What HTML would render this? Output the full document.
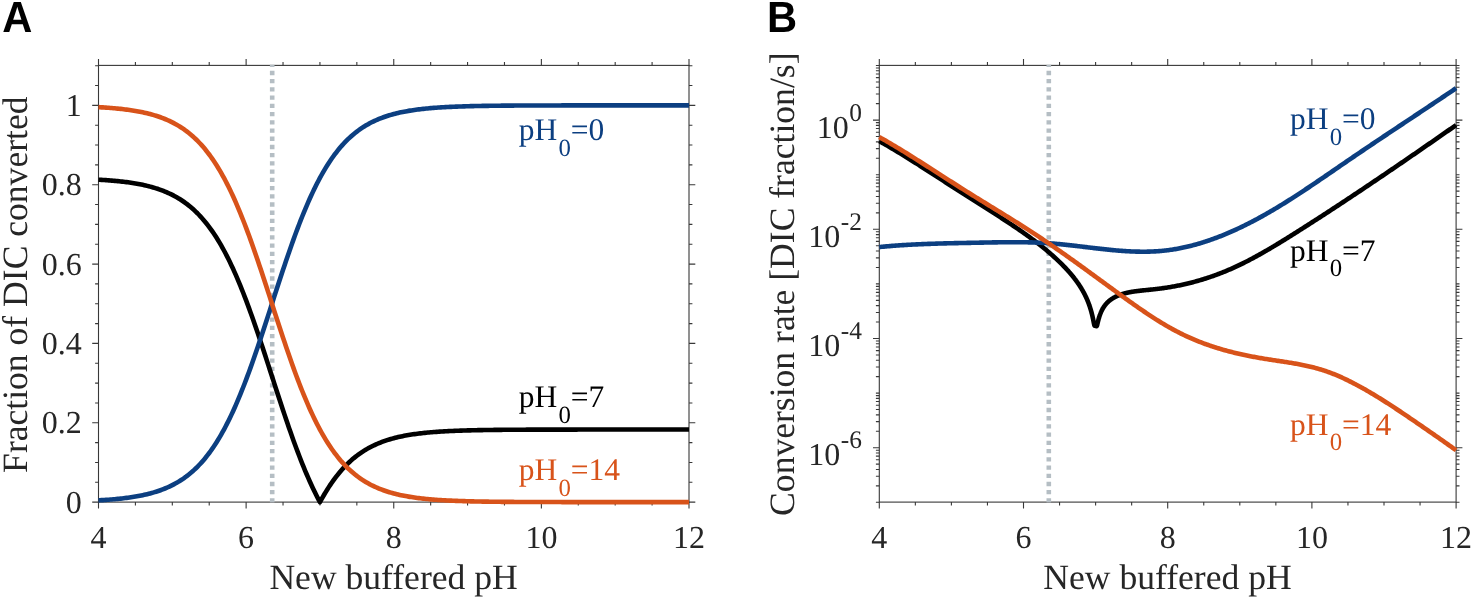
<!DOCTYPE html>
<html lang="en"><head><meta charset="utf-8"><title>Figure</title>
<style>html,body{margin:0;padding:0;background:#fff;}svg{display:block;will-change:transform;}text{font-family:"Liberation Serif", "Times New Roman", Times, serif;fill:#262626;text-rendering:geometricPrecision;}.sans{font-family:"Liberation Sans", Arial, Helvetica, sans-serif;font-weight:700;fill:#000;}</style></head><body>
<svg width="1474" height="599" viewBox="0 0 1474 599">
<rect x="0" y="0" width="1474" height="599" fill="#ffffff"/>
<defs>
<clipPath id="clipA"><rect x="97.9" y="64.7" width="591.7" height="438.1"/></clipPath>
<clipPath id="clipB"><rect x="878.7" y="64.7" width="578" height="438.1"/></clipPath>
</defs>
<text class="sans" transform="translate(2.2 32.4) scale(1 1.042)" font-size="41.7">A</text>
<text class="sans" transform="translate(767.1 32.4) scale(1 1.042)" font-size="41.7">B</text>
<g stroke="#383838" stroke-width="1.1" fill="none" stroke-linecap="butt">
<rect x="98.5" y="65.4" width="590.5" height="436.7"/>
<path d="M98.5 502.1v6.3M98.5 65.4v-6.3M135.41 502.1v3.4M135.41 65.4v-3.4M172.31 502.1v3.4M172.31 65.4v-3.4M209.22 502.1v3.4M209.22 65.4v-3.4M246.12 502.1v6.3M246.12 65.4v-6.3M283.03 502.1v3.4M283.03 65.4v-3.4M319.94 502.1v3.4M319.94 65.4v-3.4M356.84 502.1v3.4M356.84 65.4v-3.4M393.75 502.1v6.3M393.75 65.4v-6.3M430.66 502.1v3.4M430.66 65.4v-3.4M467.56 502.1v3.4M467.56 65.4v-3.4M504.47 502.1v3.4M504.47 65.4v-3.4M541.38 502.1v6.3M541.38 65.4v-6.3M578.28 502.1v3.4M578.28 65.4v-3.4M615.19 502.1v3.4M615.19 65.4v-3.4M652.09 502.1v3.4M652.09 65.4v-3.4M689 502.1v6.3M689 65.4v-6.3M98.5 502.1h-6.3M689 502.1h6.3M98.5 482.27h-3.4M689 482.27h3.4M98.5 462.43h-3.4M689 462.43h3.4M98.5 442.6h-3.4M689 442.6h3.4M98.5 422.76h-6.3M689 422.76h6.3M98.5 402.93h-3.4M689 402.93h3.4M98.5 383.09h-3.4M689 383.09h3.4M98.5 363.25h-3.4M689 363.25h3.4M98.5 343.42h-6.3M689 343.42h6.3M98.5 323.59h-3.4M689 323.59h3.4M98.5 303.75h-3.4M689 303.75h3.4M98.5 283.91h-3.4M689 283.91h3.4M98.5 264.08h-6.3M689 264.08h6.3M98.5 244.25h-3.4M689 244.25h3.4M98.5 224.41h-3.4M689 224.41h3.4M98.5 204.57h-3.4M689 204.57h3.4M98.5 184.74h-6.3M689 184.74h6.3M98.5 164.9h-3.4M689 164.9h3.4M98.5 145.07h-3.4M689 145.07h3.4M98.5 125.23h-3.4M689 125.23h3.4M98.5 105.4h-6.3M689 105.4h6.3M98.5 85.56h-3.4M689 85.56h3.4M98.5 65.73h-3.4M689 65.73h3.4"/>
</g>
<line x1="272.2" y1="62.63" x2="272.2" y2="506" stroke="#b5bec4" stroke-width="4.6" stroke-dasharray="4.3 3.92" clip-path="url(#clipA)"/>
<text x="98.5" y="547.5" font-size="32.0" text-anchor="middle">4</text>
<text x="246.12" y="547.5" font-size="32.0" text-anchor="middle">6</text>
<text x="393.75" y="547.5" font-size="32.0" text-anchor="middle">8</text>
<text x="541.38" y="547.5" font-size="32.0" text-anchor="middle">10</text>
<text x="689" y="547.5" font-size="32.0" text-anchor="middle">12</text>
<text x="393.55" y="589.3" font-size="35.6" text-anchor="middle">New buffered pH</text>
<g stroke="#383838" stroke-width="1.1" fill="none" stroke-linecap="butt">
<rect x="879.3" y="65.4" width="576.8" height="436.7"/>
<path d="M879.3 502.1v6.3M879.3 65.4v-6.3M915.35 502.1v3.4M915.35 65.4v-3.4M951.4 502.1v3.4M951.4 65.4v-3.4M987.45 502.1v3.4M987.45 65.4v-3.4M1023.5 502.1v6.3M1023.5 65.4v-6.3M1059.55 502.1v3.4M1059.55 65.4v-3.4M1095.6 502.1v3.4M1095.6 65.4v-3.4M1131.65 502.1v3.4M1131.65 65.4v-3.4M1167.7 502.1v6.3M1167.7 65.4v-6.3M1203.75 502.1v3.4M1203.75 65.4v-3.4M1239.8 502.1v3.4M1239.8 65.4v-3.4M1275.85 502.1v3.4M1275.85 65.4v-3.4M1311.9 502.1v6.3M1311.9 65.4v-6.3M1347.95 502.1v3.4M1347.95 65.4v-3.4M1384 502.1v3.4M1384 65.4v-3.4M1420.05 502.1v3.4M1420.05 65.4v-3.4M1456.1 502.1v6.3M1456.1 65.4v-6.3M879.3 502.3h-3.4M1456.1 502.3h3.4M879.3 485.86h-3.4M1456.1 485.86h3.4M879.3 476.25h-3.4M1456.1 476.25h3.4M879.3 469.43h-3.4M1456.1 469.43h3.4M879.3 464.14h-3.4M1456.1 464.14h3.4M879.3 459.81h-3.4M1456.1 459.81h3.4M879.3 456.16h-3.4M1456.1 456.16h3.4M879.3 452.99h-3.4M1456.1 452.99h3.4M879.3 450.2h-3.4M1456.1 450.2h3.4M879.3 447.7h-6.3M1456.1 447.7h6.3M879.3 431.26h-3.4M1456.1 431.26h3.4M879.3 421.65h-3.4M1456.1 421.65h3.4M879.3 414.83h-3.4M1456.1 414.83h3.4M879.3 409.54h-3.4M1456.1 409.54h3.4M879.3 405.21h-3.4M1456.1 405.21h3.4M879.3 401.56h-3.4M1456.1 401.56h3.4M879.3 398.39h-3.4M1456.1 398.39h3.4M879.3 395.6h-3.4M1456.1 395.6h3.4M879.3 393.1h-3.4M1456.1 393.1h3.4M879.3 376.66h-3.4M1456.1 376.66h3.4M879.3 367.05h-3.4M1456.1 367.05h3.4M879.3 360.23h-3.4M1456.1 360.23h3.4M879.3 354.94h-3.4M1456.1 354.94h3.4M879.3 350.61h-3.4M1456.1 350.61h3.4M879.3 346.96h-3.4M1456.1 346.96h3.4M879.3 343.79h-3.4M1456.1 343.79h3.4M879.3 341h-3.4M1456.1 341h3.4M879.3 338.5h-6.3M1456.1 338.5h6.3M879.3 322.06h-3.4M1456.1 322.06h3.4M879.3 312.45h-3.4M1456.1 312.45h3.4M879.3 305.63h-3.4M1456.1 305.63h3.4M879.3 300.34h-3.4M1456.1 300.34h3.4M879.3 296.01h-3.4M1456.1 296.01h3.4M879.3 292.36h-3.4M1456.1 292.36h3.4M879.3 289.19h-3.4M1456.1 289.19h3.4M879.3 286.4h-3.4M1456.1 286.4h3.4M879.3 283.9h-3.4M1456.1 283.9h3.4M879.3 267.46h-3.4M1456.1 267.46h3.4M879.3 257.85h-3.4M1456.1 257.85h3.4M879.3 251.03h-3.4M1456.1 251.03h3.4M879.3 245.74h-3.4M1456.1 245.74h3.4M879.3 241.41h-3.4M1456.1 241.41h3.4M879.3 237.76h-3.4M1456.1 237.76h3.4M879.3 234.59h-3.4M1456.1 234.59h3.4M879.3 231.8h-3.4M1456.1 231.8h3.4M879.3 229.3h-6.3M1456.1 229.3h6.3M879.3 212.86h-3.4M1456.1 212.86h3.4M879.3 203.25h-3.4M1456.1 203.25h3.4M879.3 196.43h-3.4M1456.1 196.43h3.4M879.3 191.14h-3.4M1456.1 191.14h3.4M879.3 186.81h-3.4M1456.1 186.81h3.4M879.3 183.16h-3.4M1456.1 183.16h3.4M879.3 179.99h-3.4M1456.1 179.99h3.4M879.3 177.2h-3.4M1456.1 177.2h3.4M879.3 174.7h-3.4M1456.1 174.7h3.4M879.3 158.26h-3.4M1456.1 158.26h3.4M879.3 148.65h-3.4M1456.1 148.65h3.4M879.3 141.83h-3.4M1456.1 141.83h3.4M879.3 136.54h-3.4M1456.1 136.54h3.4M879.3 132.21h-3.4M1456.1 132.21h3.4M879.3 128.56h-3.4M1456.1 128.56h3.4M879.3 125.39h-3.4M1456.1 125.39h3.4M879.3 122.6h-3.4M1456.1 122.6h3.4M879.3 120.1h-6.3M1456.1 120.1h6.3M879.3 103.66h-3.4M1456.1 103.66h3.4M879.3 94.05h-3.4M1456.1 94.05h3.4M879.3 87.23h-3.4M1456.1 87.23h3.4M879.3 81.94h-3.4M1456.1 81.94h3.4M879.3 77.61h-3.4M1456.1 77.61h3.4M879.3 73.96h-3.4M1456.1 73.96h3.4M879.3 70.79h-3.4M1456.1 70.79h3.4M879.3 68h-3.4M1456.1 68h3.4M879.3 65.5h-3.4M1456.1 65.5h3.4"/>
</g>
<line x1="1048.8" y1="62.63" x2="1048.8" y2="506" stroke="#b5bec4" stroke-width="4.6" stroke-dasharray="4.3 3.92" clip-path="url(#clipB)"/>
<text x="879.3" y="547.5" font-size="32.0" text-anchor="middle">4</text>
<text x="1023.5" y="547.5" font-size="32.0" text-anchor="middle">6</text>
<text x="1167.7" y="547.5" font-size="32.0" text-anchor="middle">8</text>
<text x="1311.9" y="547.5" font-size="32.0" text-anchor="middle">10</text>
<text x="1456.1" y="547.5" font-size="32.0" text-anchor="middle">12</text>
<text x="1167.5" y="589.3" font-size="35.6" text-anchor="middle">New buffered pH</text>
<text x="81.8" y="512.6" font-size="32.0" text-anchor="end">0</text>
<text x="81.8" y="433.26" font-size="32.0" text-anchor="end">0.2</text>
<text x="81.8" y="353.92" font-size="32.0" text-anchor="end">0.4</text>
<text x="81.8" y="274.58" font-size="32.0" text-anchor="end">0.6</text>
<text x="81.8" y="195.24" font-size="32.0" text-anchor="end">0.8</text>
<text x="81.8" y="115.9" font-size="32.0" text-anchor="end">1</text>
<text transform="translate(27.1 284.7) rotate(-90)" font-size="35.6" text-anchor="middle">Fraction of DIC converted</text>
<text x="848.8" y="137.7" font-size="32.0" text-anchor="end">10</text>
<text x="862" y="120.7" font-size="25.4" text-anchor="end">0</text>
<text x="840.34" y="246.9" font-size="32.0" text-anchor="end">10</text>
<text x="862" y="229.9" font-size="25.4" text-anchor="end">-2</text>
<text x="840.34" y="356.1" font-size="32.0" text-anchor="end">10</text>
<text x="862" y="339.1" font-size="25.4" text-anchor="end">-4</text>
<text x="840.34" y="465.3" font-size="32.0" text-anchor="end">10</text>
<text x="862" y="448.3" font-size="25.4" text-anchor="end">-6</text>
<text transform="translate(794.2 284.2) rotate(-90)" font-size="35.6" text-anchor="middle">Conversion rate [DIC fraction/s]</text>
<g fill="none" stroke-width="4.6" stroke-linejoin="round" stroke-linecap="butt">
<polyline stroke="#000000" points="98.5,179.7 99.98,179.78 101.45,179.87 102.93,179.96 104.4,180.06 105.88,180.16 107.36,180.26 108.83,180.37 110.31,180.48 111.79,180.6 113.26,180.73 114.74,180.86 116.21,180.99 117.69,181.14 119.17,181.29 120.64,181.44 122.12,181.61 123.6,181.78 125.07,181.96 126.55,182.14 128.02,182.34 129.5,182.54 130.98,182.76 132.45,182.98 133.93,183.22 135.41,183.46 136.88,183.72 138.36,183.99 139.83,184.27 141.31,184.56 142.79,184.87 144.26,185.19 145.74,185.52 147.22,185.87 148.69,186.24 150.17,186.62 151.64,187.02 153.12,187.44 154.6,187.88 156.07,188.33 157.55,188.81 159.03,189.31 160.5,189.83 161.98,190.37 163.45,190.94 164.93,191.53 166.41,192.15 167.88,192.79 169.36,193.47 170.84,194.17 172.31,194.9 173.79,195.66 175.26,196.46 176.74,197.29 178.22,198.16 179.69,199.06 181.17,200 182.65,200.98 184.12,202 185.6,203.06 187.07,204.16 188.55,205.32 190.03,206.51 191.5,207.76 192.98,209.05 194.46,210.4 195.93,211.8 197.41,213.25 198.88,214.76 200.36,216.33 201.84,217.96 203.31,219.65 204.79,221.4 206.27,223.21 207.74,225.09 209.22,227.04 210.69,229.05 212.17,231.14 213.65,233.3 215.12,235.53 216.6,237.83 218.08,240.21 219.55,242.67 221.03,245.2 222.5,247.81 223.98,250.5 225.46,253.27 226.93,256.12 228.41,259.06 229.89,262.07 231.36,265.16 232.84,268.34 234.31,271.59 235.79,274.93 237.27,278.34 238.74,281.83 240.22,285.4 241.7,289.05 243.17,292.77 244.65,296.56 246.12,300.43 247.6,304.36 249.08,308.36 250.55,312.42 252.03,316.55 253.51,320.73 254.98,324.96 256.46,329.25 257.93,333.58 259.41,337.96 260.89,342.38 262.36,346.83 263.84,351.31 265.32,355.82 266.79,360.35 268.27,364.89 269.74,369.45 271.22,374.01 272.7,378.58 274.17,383.15 275.65,387.7 277.13,392.25 278.6,396.78 280.08,401.29 281.55,405.77 283.03,410.22 284.51,414.63 285.98,419.01 287.46,423.35 288.94,427.63 290.41,431.87 291.89,436.05 293.36,440.17 294.84,444.24 296.32,448.24 297.79,452.17 299.27,456.04 300.75,459.83 302.22,463.55 303.7,467.2 305.17,470.77 306.65,474.26 308.13,477.68 309.6,481.01 311.08,484.27 312.56,487.44 314.03,490.53 315.51,493.55 316.98,496.48 318.46,499.33 319.94,502.1 321.41,499.41 322.89,496.8 324.37,494.26 325.84,491.81 327.32,489.43 328.79,487.12 330.27,484.89 331.75,482.73 333.22,480.65 334.7,478.63 336.18,476.68 337.65,474.8 339.13,472.99 340.6,471.24 342.08,469.55 343.56,467.92 345.03,466.35 346.51,464.84 347.99,463.39 349.46,461.99 350.94,460.64 352.41,459.35 353.89,458.1 355.37,456.91 356.84,455.75 358.32,454.65 359.8,453.59 361.27,452.57 362.75,451.59 364.22,450.65 365.7,449.74 367.18,448.88 368.65,448.05 370.13,447.25 371.61,446.49 373.08,445.75 374.56,445.05 376.03,444.38 377.51,443.74 378.99,443.12 380.46,442.53 381.94,441.96 383.42,441.42 384.89,440.9 386.37,440.4 387.84,439.92 389.32,439.46 390.8,439.03 392.27,438.61 393.75,438.21 395.23,437.83 396.7,437.46 398.18,437.11 399.65,436.77 401.13,436.45 402.61,436.15 404.08,435.85 405.56,435.57 407.04,435.3 408.51,435.05 409.99,434.8 411.46,434.57 412.94,434.34 414.42,434.13 415.89,433.92 417.37,433.73 418.85,433.54 420.32,433.36 421.8,433.19 423.27,433.03 424.75,432.87 426.23,432.72 427.7,432.58 429.18,432.44 430.66,432.31 432.13,432.19 433.61,432.07 435.08,431.95 436.56,431.84 438.04,431.74 439.51,431.64 440.99,431.55 442.47,431.46 443.94,431.37 445.42,431.29 446.89,431.21 448.37,431.13 449.85,431.06 451.32,430.99 452.8,430.93 454.28,430.86 455.75,430.8 457.23,430.75 458.7,430.69 460.18,430.64 461.66,430.59 463.13,430.54 464.61,430.49 466.09,430.45 467.56,430.41 469.04,430.37 470.51,430.33 471.99,430.3 473.47,430.26 474.94,430.23 476.42,430.2 477.9,430.17 479.37,430.14 480.85,430.11 482.32,430.08 483.8,430.06 485.28,430.03 486.75,430.01 488.23,429.99 489.71,429.97 491.18,429.95 492.66,429.93 494.13,429.91 495.61,429.9 497.09,429.88 498.56,429.86 500.04,429.85 501.52,429.83 502.99,429.82 504.47,429.81 505.94,429.79 507.42,429.78 508.9,429.77 510.37,429.76 511.85,429.75 513.33,429.74 514.8,429.73 516.28,429.72 517.75,429.71 519.23,429.71 520.71,429.7 522.18,429.69 523.66,429.68 525.14,429.68 526.61,429.67 528.09,429.67 529.56,429.66 531.04,429.65 532.52,429.65 533.99,429.64 535.47,429.64 536.95,429.64 538.42,429.63 539.9,429.63 541.37,429.62 542.85,429.62 544.33,429.62 545.8,429.61 547.28,429.61 548.76,429.61 550.23,429.6 551.71,429.6 553.18,429.6 554.66,429.6 556.14,429.6 557.61,429.59 559.09,429.59 560.57,429.59 562.04,429.59 563.52,429.59 564.99,429.58 566.47,429.58 567.95,429.58 569.42,429.58 570.9,429.58 572.38,429.58 573.85,429.58 575.33,429.58 576.8,429.58 578.28,429.57 579.76,429.57 581.23,429.57 582.71,429.57 584.19,429.57 585.66,429.57 587.14,429.57 588.61,429.57 590.09,429.57 591.57,429.57 593.04,429.57 594.52,429.57 596,429.57 597.47,429.57 598.95,429.57 600.42,429.57 601.9,429.57 603.38,429.57 604.85,429.57 606.33,429.57 607.81,429.57 609.28,429.57 610.76,429.56 612.23,429.56 613.71,429.56 615.19,429.56 616.66,429.56 618.14,429.56 619.62,429.56 621.09,429.56 622.57,429.56 624.04,429.56 625.52,429.56 627,429.56 628.47,429.56 629.95,429.56 631.43,429.56 632.9,429.56 634.38,429.56 635.85,429.56 637.33,429.56 638.81,429.56 640.28,429.56 641.76,429.56 643.24,429.56 644.71,429.56 646.19,429.56 647.66,429.56 649.14,429.56 650.62,429.56 652.09,429.56 653.57,429.56 655.05,429.56 656.52,429.56 658,429.56 659.47,429.56 660.95,429.56 662.43,429.56 663.9,429.56 665.38,429.56 666.86,429.56 668.33,429.56 669.81,429.56 671.28,429.56 672.76,429.56 674.24,429.56 675.71,429.56 677.19,429.56 678.67,429.56 680.14,429.56 681.62,429.56 683.09,429.56 684.57,429.56 686.05,429.56 687.52,429.56 689,429.56"/>
<polyline stroke="#0c3f81" points="98.5,500.34 99.98,500.25 101.45,500.17 102.93,500.08 104.4,499.98 105.88,499.88 107.36,499.78 108.83,499.67 110.31,499.56 111.79,499.44 113.26,499.31 114.74,499.18 116.21,499.04 117.69,498.9 119.17,498.75 120.64,498.6 122.12,498.43 123.6,498.26 125.07,498.08 126.55,497.89 128.02,497.7 129.5,497.49 130.98,497.28 132.45,497.05 133.93,496.82 135.41,496.57 136.88,496.32 138.36,496.05 139.83,495.77 141.31,495.48 142.79,495.17 144.26,494.85 145.74,494.51 147.22,494.16 148.69,493.8 150.17,493.41 151.64,493.01 153.12,492.6 154.6,492.16 156.07,491.7 157.55,491.23 159.03,490.73 160.5,490.21 161.98,489.67 163.45,489.1 164.93,488.51 166.41,487.89 167.88,487.24 169.36,486.57 170.84,485.87 172.31,485.14 173.79,484.37 175.26,483.58 176.74,482.75 178.22,481.88 179.69,480.98 181.17,480.04 182.65,479.06 184.12,478.04 185.6,476.98 187.07,475.87 188.55,474.72 190.03,473.52 191.5,472.28 192.98,470.98 194.46,469.64 195.93,468.24 197.41,466.78 198.88,465.27 200.36,463.71 201.84,462.08 203.31,460.39 204.79,458.64 206.27,456.83 207.74,454.95 209.22,453 210.69,450.98 212.17,448.9 213.65,446.74 215.12,444.51 216.6,442.21 218.08,439.83 219.55,437.37 221.03,434.84 222.5,432.22 223.98,429.53 225.46,426.76 226.93,423.91 228.41,420.98 229.89,417.97 231.36,414.88 232.84,411.7 234.31,408.45 235.79,405.11 237.27,401.7 238.74,398.21 240.22,394.63 241.7,390.99 243.17,387.27 244.65,383.47 246.12,379.61 247.6,375.68 249.08,371.68 250.55,367.61 252.03,363.49 253.51,359.31 254.98,355.07 256.46,350.79 257.93,346.45 259.41,342.08 260.89,337.66 262.36,333.21 263.84,328.73 265.32,324.22 266.79,319.69 268.27,315.15 269.74,310.59 271.22,306.02 272.7,301.46 274.17,296.89 275.65,292.33 277.13,287.79 278.6,283.26 280.08,278.75 281.55,274.27 283.03,269.82 284.51,265.4 285.98,261.03 287.46,256.69 288.94,252.41 290.41,248.17 291.89,243.99 293.36,239.86 294.84,235.8 296.32,231.8 297.79,227.87 299.27,224 300.75,220.21 302.22,216.49 303.7,212.84 305.17,209.27 306.65,205.78 308.13,202.36 309.6,199.03 311.08,195.77 312.56,192.6 314.03,189.5 315.51,186.49 316.98,183.56 318.46,180.71 319.94,177.94 321.41,175.25 322.89,172.63 324.37,170.1 325.84,167.64 327.32,165.26 328.79,162.96 330.27,160.73 331.75,158.57 333.22,156.48 334.7,154.47 336.18,152.52 337.65,150.64 339.13,148.83 340.6,147.07 342.08,145.39 343.56,143.76 345.03,142.19 346.51,140.68 347.99,139.23 349.46,137.83 350.94,136.48 352.41,135.19 353.89,133.94 355.37,132.74 356.84,131.59 358.32,130.49 359.8,129.42 361.27,128.4 362.75,127.42 364.22,126.48 365.7,125.58 367.18,124.72 368.65,123.88 370.13,123.09 371.61,122.32 373.08,121.59 374.56,120.89 376.03,120.22 377.51,119.57 378.99,118.95 380.46,118.36 381.94,117.8 383.42,117.25 384.89,116.73 386.37,116.23 387.84,115.76 389.32,115.3 390.8,114.87 392.27,114.45 393.75,114.05 395.23,113.66 396.7,113.3 398.18,112.95 399.65,112.61 401.13,112.29 402.61,111.98 404.08,111.69 405.56,111.41 407.04,111.14 408.51,110.89 409.99,110.64 411.46,110.41 412.94,110.18 414.42,109.97 415.89,109.76 417.37,109.57 418.85,109.38 420.32,109.2 421.8,109.03 423.27,108.86 424.75,108.71 426.23,108.56 427.7,108.42 429.18,108.28 430.66,108.15 432.13,108.02 433.61,107.9 435.08,107.79 436.56,107.68 438.04,107.58 439.51,107.48 440.99,107.38 442.47,107.29 443.94,107.21 445.42,107.12 446.89,107.04 448.37,106.97 449.85,106.9 451.32,106.83 452.8,106.76 454.28,106.7 455.75,106.64 457.23,106.58 458.7,106.53 460.18,106.48 461.66,106.43 463.13,106.38 464.61,106.33 466.09,106.29 467.56,106.25 469.04,106.21 470.51,106.17 471.99,106.13 473.47,106.1 474.94,106.07 476.42,106.03 477.9,106 479.37,105.97 480.85,105.95 482.32,105.92 483.8,105.9 485.28,105.87 486.75,105.85 488.23,105.83 489.71,105.81 491.18,105.79 492.66,105.77 494.13,105.75 495.61,105.73 497.09,105.72 498.56,105.7 500.04,105.69 501.52,105.67 502.99,105.66 504.47,105.64 505.94,105.63 507.42,105.62 508.9,105.61 510.37,105.6 511.85,105.59 513.33,105.58 514.8,105.57 516.28,105.56 517.75,105.55 519.23,105.54 520.71,105.54 522.18,105.53 523.66,105.52 525.14,105.51 526.61,105.51 528.09,105.5 529.56,105.5 531.04,105.49 532.52,105.49 533.99,105.48 535.47,105.48 536.95,105.47 538.42,105.47 539.9,105.46 541.37,105.46 542.85,105.46 544.33,105.45 545.8,105.45 547.28,105.45 548.76,105.44 550.23,105.44 551.71,105.44 553.18,105.44 554.66,105.43 556.14,105.43 557.61,105.43 559.09,105.43 560.57,105.43 562.04,105.42 563.52,105.42 564.99,105.42 566.47,105.42 567.95,105.42 569.42,105.42 570.9,105.42 572.38,105.42 573.85,105.41 575.33,105.41 576.8,105.41 578.28,105.41 579.76,105.41 581.23,105.41 582.71,105.41 584.19,105.41 585.66,105.41 587.14,105.41 588.61,105.41 590.09,105.41 591.57,105.41 593.04,105.41 594.52,105.4 596,105.4 597.47,105.4 598.95,105.4 600.42,105.4 601.9,105.4 603.38,105.4 604.85,105.4 606.33,105.4 607.81,105.4 609.28,105.4 610.76,105.4 612.23,105.4 613.71,105.4 615.19,105.4 616.66,105.4 618.14,105.4 619.62,105.4 621.09,105.4 622.57,105.4 624.04,105.4 625.52,105.4 627,105.4 628.47,105.4 629.95,105.4 631.43,105.4 632.9,105.4 634.38,105.4 635.85,105.4 637.33,105.4 638.81,105.4 640.28,105.4 641.76,105.4 643.24,105.4 644.71,105.4 646.19,105.4 647.66,105.4 649.14,105.4 650.62,105.4 652.09,105.4 653.57,105.4 655.05,105.4 656.52,105.4 658,105.4 659.47,105.4 660.95,105.4 662.43,105.4 663.9,105.4 665.38,105.4 666.86,105.4 668.33,105.4 669.81,105.4 671.28,105.4 672.76,105.4 674.24,105.4 675.71,105.4 677.19,105.4 678.67,105.4 680.14,105.4 681.62,105.4 683.09,105.4 684.57,105.4 686.05,105.4 687.52,105.4 689,105.4"/>
<polyline stroke="#d8531a" points="98.5,107.16 99.98,107.25 101.45,107.33 102.93,107.42 104.4,107.52 105.88,107.62 107.36,107.72 108.83,107.83 110.31,107.94 111.79,108.06 113.26,108.19 114.74,108.32 116.21,108.46 117.69,108.6 119.17,108.75 120.64,108.9 122.12,109.07 123.6,109.24 125.07,109.42 126.55,109.61 128.02,109.8 129.5,110.01 130.98,110.22 132.45,110.45 133.93,110.68 135.41,110.93 136.88,111.18 138.36,111.45 139.83,111.73 141.31,112.02 142.79,112.33 144.26,112.65 145.74,112.99 147.22,113.34 148.69,113.7 150.17,114.09 151.64,114.49 153.12,114.9 154.6,115.34 156.07,115.8 157.55,116.27 159.03,116.77 160.5,117.29 161.98,117.83 163.45,118.4 164.93,118.99 166.41,119.61 167.88,120.26 169.36,120.93 170.84,121.63 172.31,122.36 173.79,123.13 175.26,123.92 176.74,124.75 178.22,125.62 179.69,126.52 181.17,127.46 182.65,128.44 184.12,129.46 185.6,130.52 187.07,131.63 188.55,132.78 190.03,133.98 191.5,135.22 192.98,136.52 194.46,137.86 195.93,139.26 197.41,140.72 198.88,142.23 200.36,143.79 201.84,145.42 203.31,147.11 204.79,148.86 206.27,150.67 207.74,152.55 209.22,154.5 210.69,156.52 212.17,158.6 213.65,160.76 215.12,162.99 216.6,165.29 218.08,167.67 219.55,170.13 221.03,172.66 222.5,175.28 223.98,177.97 225.46,180.74 226.93,183.59 228.41,186.52 229.89,189.53 231.36,192.62 232.84,195.8 234.31,199.05 235.79,202.39 237.27,205.8 238.74,209.29 240.22,212.87 241.7,216.51 243.17,220.23 244.65,224.03 246.12,227.89 247.6,231.82 249.08,235.82 250.55,239.89 252.03,244.01 253.51,248.19 254.98,252.43 256.46,256.71 257.93,261.05 259.41,265.42 260.89,269.84 262.36,274.29 263.84,278.77 265.32,283.28 266.79,287.81 268.27,292.35 269.74,296.91 271.22,301.48 272.7,306.04 274.17,310.61 275.65,315.17 277.13,319.71 278.6,324.24 280.08,328.75 281.55,333.23 283.03,337.68 284.51,342.1 285.98,346.47 287.46,350.81 288.94,355.09 290.41,359.33 291.89,363.51 293.36,367.64 294.84,371.7 296.32,375.7 297.79,379.63 299.27,383.5 300.75,387.29 302.22,391.01 303.7,394.66 305.17,398.23 306.65,401.72 308.13,405.14 309.6,408.47 311.08,411.73 312.56,414.9 314.03,418 315.51,421.01 316.98,423.94 318.46,426.79 319.94,429.56 321.41,432.25 322.89,434.87 324.37,437.4 325.84,439.86 327.32,442.24 328.79,444.54 330.27,446.77 331.75,448.93 333.22,451.02 334.7,453.03 336.18,454.98 337.65,456.86 339.13,458.67 340.6,460.43 342.08,462.11 343.56,463.74 345.03,465.31 346.51,466.82 347.99,468.27 349.46,469.67 350.94,471.02 352.41,472.31 353.89,473.56 355.37,474.76 356.84,475.91 358.32,477.01 359.8,478.08 361.27,479.1 362.75,480.08 364.22,481.02 365.7,481.92 367.18,482.78 368.65,483.62 370.13,484.41 371.61,485.18 373.08,485.91 374.56,486.61 376.03,487.28 377.51,487.93 378.99,488.55 380.46,489.14 381.94,489.7 383.42,490.25 384.89,490.77 386.37,491.27 387.84,491.74 389.32,492.2 390.8,492.63 392.27,493.05 393.75,493.45 395.23,493.84 396.7,494.2 398.18,494.55 399.65,494.89 401.13,495.21 402.61,495.52 404.08,495.81 405.56,496.09 407.04,496.36 408.51,496.61 409.99,496.86 411.46,497.09 412.94,497.32 414.42,497.53 415.89,497.74 417.37,497.93 418.85,498.12 420.32,498.3 421.8,498.47 423.27,498.64 424.75,498.79 426.23,498.94 427.7,499.08 429.18,499.22 430.66,499.35 432.13,499.48 433.61,499.6 435.08,499.71 436.56,499.82 438.04,499.92 439.51,500.02 440.99,500.12 442.47,500.21 443.94,500.29 445.42,500.38 446.89,500.46 448.37,500.53 449.85,500.6 451.32,500.67 452.8,500.74 454.28,500.8 455.75,500.86 457.23,500.92 458.7,500.97 460.18,501.02 461.66,501.07 463.13,501.12 464.61,501.17 466.09,501.21 467.56,501.25 469.04,501.29 470.51,501.33 471.99,501.37 473.47,501.4 474.94,501.43 476.42,501.47 477.9,501.5 479.37,501.53 480.85,501.55 482.32,501.58 483.8,501.6 485.28,501.63 486.75,501.65 488.23,501.67 489.71,501.69 491.18,501.71 492.66,501.73 494.13,501.75 495.61,501.77 497.09,501.78 498.56,501.8 500.04,501.81 501.52,501.83 502.99,501.84 504.47,501.86 505.94,501.87 507.42,501.88 508.9,501.89 510.37,501.9 511.85,501.91 513.33,501.92 514.8,501.93 516.28,501.94 517.75,501.95 519.23,501.96 520.71,501.96 522.18,501.97 523.66,501.98 525.14,501.99 526.61,501.99 528.09,502 529.56,502 531.04,502.01 532.52,502.01 533.99,502.02 535.47,502.02 536.95,502.03 538.42,502.03 539.9,502.04 541.37,502.04 542.85,502.04 544.33,502.05 545.8,502.05 547.28,502.05 548.76,502.06 550.23,502.06 551.71,502.06 553.18,502.06 554.66,502.07 556.14,502.07 557.61,502.07 559.09,502.07 560.57,502.07 562.04,502.08 563.52,502.08 564.99,502.08 566.47,502.08 567.95,502.08 569.42,502.08 570.9,502.08 572.38,502.08 573.85,502.09 575.33,502.09 576.8,502.09 578.28,502.09 579.76,502.09 581.23,502.09 582.71,502.09 584.19,502.09 585.66,502.09 587.14,502.09 588.61,502.09 590.09,502.09 591.57,502.09 593.04,502.09 594.52,502.1 596,502.1 597.47,502.1 598.95,502.1 600.42,502.1 601.9,502.1 603.38,502.1 604.85,502.1 606.33,502.1 607.81,502.1 609.28,502.1 610.76,502.1 612.23,502.1 613.71,502.1 615.19,502.1 616.66,502.1 618.14,502.1 619.62,502.1 621.09,502.1 622.57,502.1 624.04,502.1 625.52,502.1 627,502.1 628.47,502.1 629.95,502.1 631.43,502.1 632.9,502.1 634.38,502.1 635.85,502.1 637.33,502.1 638.81,502.1 640.28,502.1 641.76,502.1 643.24,502.1 644.71,502.1 646.19,502.1 647.66,502.1 649.14,502.1 650.62,502.1 652.09,502.1 653.57,502.1 655.05,502.1 656.52,502.1 658,502.1 659.47,502.1 660.95,502.1 662.43,502.1 663.9,502.1 665.38,502.1 666.86,502.1 668.33,502.1 669.81,502.1 671.28,502.1 672.76,502.1 674.24,502.1 675.71,502.1 677.19,502.1 678.67,502.1 680.14,502.1 681.62,502.1 683.09,502.1 684.57,502.1 686.05,502.1 687.52,502.1 689,502.1"/>
</g>
<g fill="none" stroke-width="4.6" stroke-linejoin="round" stroke-linecap="butt">
<polyline stroke="#000000" points="879.3,141.12 880.88,142.01 882.45,142.9 884.03,143.8 885.6,144.71 887.18,145.63 888.75,146.55 890.33,147.47 891.9,148.4 893.48,149.34 895.05,150.28 896.63,151.23 898.2,152.18 899.78,153.14 901.35,154.1 902.93,155.07 904.5,156.04 906.08,157.01 907.66,157.99 909.23,158.97 910.81,159.96 912.38,160.95 913.96,161.94 915.53,162.93 917.11,163.93 918.68,164.93 920.26,165.94 921.83,166.94 923.41,167.95 924.98,168.96 926.56,169.97 928.13,170.98 929.71,172 931.28,173.02 932.86,174.03 934.44,175.05 936.01,176.07 937.59,177.09 939.16,178.11 940.74,179.13 942.31,180.15 943.89,181.18 945.46,182.2 947.04,183.22 948.61,184.24 950.19,185.26 951.76,186.28 953.34,187.3 954.91,188.32 956.49,189.33 958.06,190.35 959.64,191.36 961.22,192.38 962.79,193.39 964.37,194.39 965.94,195.4 967.52,196.41 969.09,197.41 970.67,198.41 972.24,199.41 973.82,200.41 975.39,201.41 976.97,202.4 978.54,203.4 980.12,204.4 981.69,205.39 983.27,206.39 984.84,207.38 986.42,208.38 988,209.38 989.57,210.38 991.15,211.38 992.72,212.38 994.3,213.39 995.87,214.39 997.45,215.4 999.02,216.42 1000.6,217.43 1002.17,218.45 1003.75,219.47 1005.32,220.5 1006.9,221.53 1008.47,222.57 1010.05,223.61 1011.62,224.66 1013.2,225.71 1014.78,226.77 1016.35,227.84 1017.93,228.91 1019.5,230 1021.08,231.08 1022.65,232.18 1024.23,233.29 1025.8,234.41 1027.38,235.54 1028.95,236.67 1030.53,237.82 1032.1,238.98 1033.68,240.16 1035.25,241.35 1036.83,242.55 1038.4,243.77 1039.98,245 1041.56,246.25 1043.13,247.51 1044.71,248.8 1046.28,250.1 1047.86,251.42 1049.43,252.76 1051.01,254.13 1052.58,255.51 1054.16,256.93 1055.73,258.36 1057.31,259.83 1058.88,261.32 1060.46,262.85 1062.03,264.41 1063.61,266.01 1065.18,267.66 1066.76,269.34 1066.88,269.47 1067,269.61 1067.12,269.74 1067.24,269.87 1067.36,270 1067.48,270.13 1067.6,270.27 1067.73,270.4 1067.85,270.53 1067.97,270.67 1068.09,270.8 1068.21,270.94 1068.33,271.07 1068.45,271.21 1068.57,271.34 1068.69,271.48 1068.81,271.62 1068.93,271.75 1069.05,271.89 1069.17,272.03 1069.29,272.16 1069.41,272.3 1069.54,272.44 1069.66,272.58 1069.78,272.72 1069.9,272.86 1070.02,273 1070.14,273.14 1070.26,273.28 1070.38,273.42 1070.5,273.56 1070.62,273.7 1070.74,273.84 1070.86,273.99 1070.98,274.13 1071.1,274.27 1071.22,274.42 1071.35,274.56 1071.47,274.7 1071.59,274.85 1071.71,274.99 1071.83,275.14 1071.95,275.29 1072.07,275.43 1072.19,275.58 1072.31,275.73 1072.43,275.87 1072.55,276.02 1072.67,276.17 1072.79,276.32 1072.91,276.47 1073.03,276.62 1073.16,276.77 1073.28,276.92 1073.4,277.07 1073.52,277.22 1073.64,277.38 1073.76,277.53 1073.88,277.68 1074,277.84 1074.12,277.99 1074.24,278.15 1074.36,278.3 1074.48,278.46 1074.6,278.61 1074.72,278.77 1074.84,278.93 1074.97,279.09 1075.09,279.24 1075.21,279.4 1075.33,279.56 1075.45,279.72 1075.57,279.88 1075.69,280.05 1075.81,280.21 1075.93,280.37 1076.05,280.53 1076.17,280.7 1076.29,280.86 1076.41,281.03 1076.53,281.19 1076.65,281.36 1076.78,281.53 1076.9,281.69 1077.02,281.86 1077.14,282.03 1077.26,282.2 1077.38,282.37 1077.5,282.54 1077.62,282.71 1077.74,282.88 1077.86,283.06 1077.98,283.23 1078.1,283.41 1078.22,283.58 1078.34,283.76 1078.46,283.93 1078.59,284.11 1078.71,284.29 1078.83,284.47 1078.95,284.65 1079.07,284.83 1079.19,285.01 1079.31,285.19 1079.43,285.38 1079.55,285.56 1079.67,285.75 1079.79,285.93 1079.91,286.12 1080.03,286.31 1080.15,286.5 1080.27,286.69 1080.4,286.88 1080.52,287.07 1080.64,287.26 1080.76,287.45 1080.88,287.65 1081,287.84 1081.12,288.04 1081.24,288.24 1081.36,288.44 1081.48,288.64 1081.6,288.84 1081.72,289.04 1081.84,289.24 1081.96,289.45 1082.09,289.65 1082.21,289.86 1082.33,290.07 1082.45,290.27 1082.57,290.49 1082.69,290.7 1082.81,290.91 1082.93,291.12 1083.05,291.34 1083.17,291.56 1083.29,291.77 1083.41,291.99 1083.53,292.22 1083.65,292.44 1083.77,292.66 1083.9,292.89 1084.02,293.12 1084.14,293.34 1084.26,293.57 1084.38,293.81 1084.5,294.04 1084.62,294.28 1084.74,294.51 1084.86,294.75 1084.98,294.99 1085.1,295.23 1085.22,295.48 1085.34,295.73 1085.46,295.97 1085.58,296.22 1085.71,296.48 1085.83,296.73 1085.95,296.99 1086.07,297.25 1086.19,297.51 1086.31,297.77 1086.43,298.04 1086.55,298.3 1086.67,298.57 1086.79,298.85 1086.91,299.12 1087.03,299.4 1087.15,299.68 1087.27,299.97 1087.39,300.25 1087.52,300.54 1087.64,300.83 1087.76,301.13 1087.88,301.43 1088,301.73 1088.12,302.03 1088.24,302.34 1088.36,302.65 1088.48,302.97 1088.6,303.29 1088.72,303.61 1088.84,303.94 1088.96,304.27 1089.08,304.6 1089.2,304.94 1089.33,305.28 1089.45,305.63 1089.57,305.98 1089.69,306.34 1089.81,306.7 1089.93,307.07 1090.05,307.44 1090.17,307.82 1090.29,308.2 1090.41,308.59 1090.53,308.98 1090.65,309.38 1090.77,309.79 1090.89,310.21 1091.01,310.63 1091.14,311.05 1091.26,311.49 1091.38,311.93 1091.5,312.38 1091.62,312.84 1091.74,313.31 1091.86,313.79 1091.98,314.27 1092.1,314.77 1092.22,315.27 1092.34,315.78 1092.46,316.31 1092.58,316.84 1092.7,317.39 1092.82,317.94 1092.95,318.51 1093.07,319.09 1093.19,319.67 1093.31,320.27 1093.43,320.87 1093.55,321.48 1093.67,322.1 1093.79,322.71 1093.91,323.32 1094.03,323.91 1094.15,324.47 1094.27,324.98 1094.39,325.4 1094.51,325.66 1094.63,325.72 1094.76,325.75 1094.88,325.78 1095,325.81 1095.12,325.84 1095.24,325.87 1095.36,325.89 1095.48,325.92 1095.6,325.95 1095.74,325.99 1095.89,326.02 1096.03,326.06 1096.18,326.1 1096.32,326.13 1096.47,326.17 1096.61,326.2 1096.76,326.15 1096.9,325.83 1097.05,325.36 1097.19,324.81 1097.34,324.22 1097.48,323.61 1097.63,323 1097.77,322.39 1097.91,321.79 1098.06,321.2 1098.2,320.62 1098.35,320.06 1098.49,319.52 1098.64,318.99 1098.78,318.47 1098.93,317.97 1099.07,317.49 1099.22,317.02 1099.36,316.56 1099.51,316.12 1099.65,315.68 1099.8,315.26 1099.94,314.85 1100.09,314.46 1100.23,314.07 1100.37,313.69 1100.52,313.33 1100.66,312.97 1100.81,312.62 1100.95,312.28 1101.1,311.95 1101.24,311.62 1101.39,311.31 1101.53,311 1101.68,310.69 1101.82,310.4 1101.97,310.11 1102.11,309.83 1102.26,309.55 1102.4,309.28 1102.54,309.02 1102.69,308.76 1102.83,308.5 1102.98,308.25 1103.12,308.01 1103.27,307.77 1103.41,307.54 1103.56,307.31 1103.7,307.08 1103.85,306.86 1103.99,306.65 1104.14,306.43 1104.28,306.22 1104.43,306.02 1104.57,305.82 1104.71,305.62 1104.86,305.43 1105,305.24 1105.15,305.05 1105.29,304.86 1105.44,304.68 1105.58,304.5 1105.73,304.33 1105.87,304.16 1106.02,303.99 1106.16,303.82 1106.31,303.66 1106.45,303.5 1106.6,303.34 1106.74,303.18 1106.89,303.03 1107.03,302.88 1107.17,302.73 1107.32,302.58 1107.46,302.44 1107.61,302.29 1107.75,302.15 1107.9,302.02 1108.04,301.88 1108.19,301.75 1108.33,301.62 1108.48,301.49 1108.62,301.36 1108.77,301.23 1108.91,301.11 1109.06,300.98 1109.2,300.86 1109.34,300.74 1109.49,300.63 1109.63,300.51 1109.78,300.4 1109.92,300.28 1110.07,300.17 1110.21,300.06 1110.36,299.96 1110.5,299.85 1110.65,299.74 1110.79,299.64 1110.94,299.53 1111.08,299.43 1111.23,299.33 1111.37,299.23 1111.52,299.13 1111.66,299.03 1111.8,298.94 1111.95,298.84 1112.09,298.75 1112.24,298.65 1112.38,298.56 1112.53,298.47 1112.67,298.38 1112.82,298.29 1112.96,298.2 1113.11,298.11 1113.25,298.03 1113.4,297.94 1113.54,297.86 1113.69,297.77 1113.83,297.69 1113.97,297.61 1114.12,297.53 1114.26,297.45 1114.41,297.37 1114.55,297.29 1114.7,297.21 1114.84,297.14 1114.99,297.06 1115.13,296.99 1115.28,296.91 1115.42,296.84 1115.57,296.77 1115.71,296.69 1115.86,296.62 1116,296.55 1116.14,296.48 1116.29,296.41 1116.43,296.34 1116.58,296.28 1116.72,296.21 1116.87,296.14 1117.01,296.08 1117.16,296.01 1117.3,295.95 1117.45,295.89 1117.59,295.82 1117.74,295.76 1117.88,295.7 1118.03,295.64 1118.17,295.58 1118.32,295.52 1118.46,295.46 1118.6,295.4 1118.75,295.34 1118.89,295.28 1119.04,295.22 1119.18,295.17 1119.33,295.11 1119.47,295.06 1119.62,295 1119.76,294.95 1119.91,294.89 1120.05,294.84 1120.2,294.79 1120.34,294.73 1120.49,294.68 1120.63,294.63 1120.77,294.58 1120.92,294.53 1121.06,294.48 1121.21,294.43 1121.35,294.38 1121.5,294.33 1121.64,294.28 1121.79,294.24 1121.93,294.19 1122.08,294.14 1122.22,294.1 1122.37,294.05 1122.51,294.01 1122.66,293.96 1122.8,293.92 1122.94,293.87 1123.09,293.83 1123.23,293.79 1123.38,293.74 1123.52,293.7 1123.67,293.66 1123.81,293.62 1123.96,293.58 1124.1,293.54 1124.25,293.5 1124.39,293.46 1124.54,293.42 1124.68,293.38 1124.83,293.34 1124.97,293.3 1125.12,293.26 1125.26,293.22 1125.4,293.19 1125.55,293.15 1125.69,293.11 1125.84,293.08 1125.98,293.04 1126.13,293 1126.27,292.97 1126.42,292.93 1126.56,292.9 1126.71,292.87 1126.85,292.83 1127,292.8 1127.14,292.76 1127.29,292.73 1127.43,292.7 1127.57,292.67 1127.72,292.63 1127.86,292.6 1128.01,292.57 1128.15,292.54 1128.3,292.51 1128.44,292.48 1128.59,292.45 1128.73,292.42 1128.88,292.39 1129.02,292.36 1129.17,292.33 1129.31,292.3 1129.46,292.27 1129.6,292.24 1129.75,292.22 1129.89,292.19 1130.03,292.16 1130.18,292.13 1130.32,292.11 1130.47,292.08 1130.61,292.05 1130.76,292.03 1130.9,292 1131.05,291.97 1131.19,291.95 1131.34,291.92 1131.48,291.9 1131.63,291.87 1131.77,291.85 1131.92,291.82 1132.06,291.8 1132.2,291.77 1132.35,291.75 1132.49,291.73 1132.64,291.7 1132.78,291.68 1132.93,291.66 1133.07,291.63 1133.22,291.61 1133.36,291.59 1133.51,291.57 1133.65,291.54 1133.8,291.52 1133.94,291.5 1134.09,291.48 1134.23,291.46 1134.37,291.44 1134.52,291.42 1134.66,291.4 1134.81,291.38 1134.95,291.36 1135.1,291.34 1135.24,291.32 1135.39,291.3 1135.53,291.29 1135.68,291.27 1135.82,291.25 1135.97,291.23 1136.11,291.21 1136.26,291.2 1136.4,291.18 1136.55,291.16 1136.69,291.14 1136.83,291.12 1136.98,291.11 1137.12,291.09 1137.27,291.07 1137.41,291.05 1137.56,291.04 1137.7,291.02 1137.85,291 1137.99,290.99 1138.14,290.97 1138.28,290.95 1138.43,290.94 1138.57,290.92 1138.72,290.9 1138.86,290.88 1139.92,290.76 1140.98,290.65 1142.04,290.53 1143.1,290.41 1144.17,290.3 1145.23,290.19 1146.29,290.08 1147.35,289.97 1148.41,289.86 1149.47,289.75 1150.53,289.64 1151.59,289.53 1152.65,289.42 1153.71,289.3 1154.78,289.18 1155.84,289.06 1156.9,288.94 1157.96,288.82 1159.02,288.69 1160.08,288.56 1161.14,288.42 1162.2,288.28 1163.26,288.13 1164.32,287.98 1165.39,287.83 1166.45,287.67 1167.51,287.5 1168.57,287.33 1169.63,287.16 1170.69,286.98 1171.75,286.8 1172.81,286.61 1173.87,286.42 1174.93,286.23 1176,286.03 1177.06,285.82 1178.12,285.61 1179.18,285.4 1180.24,285.18 1181.3,284.95 1182.36,284.73 1183.42,284.49 1184.48,284.25 1185.54,284.01 1186.61,283.76 1187.67,283.51 1188.73,283.25 1189.79,282.99 1190.85,282.72 1191.91,282.45 1192.97,282.17 1194.03,281.89 1195.09,281.61 1196.15,281.31 1197.22,281.02 1198.28,280.72 1199.34,280.41 1200.4,280.1 1201.46,279.78 1202.52,279.46 1203.58,279.13 1204.64,278.8 1205.7,278.47 1206.76,278.12 1207.83,277.78 1208.89,277.42 1209.95,277.07 1211.01,276.7 1212.07,276.34 1213.13,275.96 1214.19,275.59 1215.25,275.2 1216.31,274.81 1217.37,274.42 1218.44,274.02 1219.5,273.62 1220.56,273.21 1221.62,272.79 1222.68,272.37 1223.74,271.95 1224.8,271.52 1225.86,271.08 1226.92,270.64 1227.98,270.19 1229.05,269.74 1230.11,269.28 1231.17,268.82 1232.23,268.35 1233.29,267.88 1234.35,267.4 1235.41,266.91 1236.47,266.42 1237.53,265.92 1238.59,265.42 1239.66,264.91 1240.72,264.4 1241.78,263.88 1242.84,263.36 1243.9,262.83 1244.96,262.3 1246.02,261.76 1247.08,261.22 1248.14,260.68 1249.2,260.12 1250.27,259.57 1251.33,259.01 1252.39,258.44 1253.45,257.87 1254.51,257.3 1255.57,256.72 1256.63,256.14 1257.69,255.56 1258.75,254.97 1259.81,254.38 1260.88,253.78 1261.94,253.18 1263,252.58 1264.06,251.97 1265.12,251.36 1266.18,250.75 1267.24,250.13 1268.3,249.51 1269.36,248.89 1270.42,248.27 1271.49,247.64 1272.55,247.01 1273.61,246.38 1274.67,245.74 1275.73,245.1 1276.79,244.46 1277.85,243.82 1278.91,243.17 1279.97,242.53 1281.03,241.88 1282.1,241.22 1283.16,240.57 1284.22,239.92 1285.28,239.26 1286.34,238.6 1287.4,237.94 1288.46,237.28 1289.52,236.62 1290.58,235.95 1291.64,235.29 1292.71,234.62 1293.77,233.95 1294.83,233.29 1295.89,232.62 1296.95,231.95 1298.01,231.28 1299.07,230.6 1300.13,229.93 1301.19,229.26 1302.25,228.59 1303.32,227.91 1304.38,227.24 1305.44,226.56 1306.5,225.88 1307.56,225.21 1308.62,224.53 1309.68,223.85 1310.74,223.17 1311.8,222.49 1312.86,221.81 1313.93,221.13 1314.99,220.44 1316.05,219.76 1317.11,219.08 1318.17,218.39 1319.23,217.71 1320.29,217.02 1321.35,216.33 1322.41,215.65 1323.47,214.96 1324.54,214.27 1325.6,213.58 1326.66,212.89 1327.72,212.2 1328.78,211.51 1329.84,210.82 1330.9,210.13 1331.96,209.43 1333.02,208.74 1334.08,208.04 1335.15,207.35 1336.21,206.65 1337.27,205.96 1338.33,205.26 1339.39,204.56 1340.45,203.87 1341.51,203.17 1342.57,202.47 1343.63,201.77 1344.69,201.07 1345.76,200.37 1346.82,199.67 1347.88,198.96 1348.94,198.26 1350,197.56 1351.06,196.85 1352.12,196.15 1353.18,195.45 1354.24,194.74 1355.3,194.03 1356.37,193.33 1357.43,192.62 1358.49,191.91 1359.55,191.21 1360.61,190.5 1361.67,189.79 1362.73,189.08 1363.79,188.37 1364.85,187.66 1365.91,186.95 1366.98,186.24 1368.04,185.52 1369.1,184.81 1370.16,184.1 1371.22,183.39 1372.28,182.67 1373.34,181.96 1374.4,181.24 1375.46,180.53 1376.52,179.81 1377.59,179.1 1378.65,178.38 1379.71,177.66 1380.77,176.94 1381.83,176.23 1382.89,175.51 1383.95,174.79 1385.01,174.07 1386.07,173.35 1387.13,172.63 1388.2,171.91 1389.26,171.19 1390.32,170.47 1391.38,169.74 1392.44,169.02 1393.5,168.3 1394.56,167.58 1395.62,166.85 1396.68,166.13 1397.74,165.4 1398.81,164.68 1399.87,163.95 1400.93,163.23 1401.99,162.5 1403.05,161.78 1404.11,161.05 1405.17,160.32 1406.23,159.6 1407.29,158.87 1408.35,158.14 1409.42,157.41 1410.48,156.68 1411.54,155.96 1412.6,155.23 1413.66,154.5 1414.72,153.77 1415.78,153.04 1416.84,152.31 1417.9,151.57 1418.96,150.84 1420.03,150.11 1421.09,149.38 1422.15,148.65 1423.21,147.91 1424.27,147.18 1425.33,146.45 1426.39,145.71 1427.45,144.98 1428.51,144.25 1429.57,143.51 1430.64,142.78 1431.7,142.04 1432.76,141.31 1433.82,140.57 1434.88,139.84 1435.94,139.1 1437,138.36 1438.06,137.63 1439.12,136.89 1440.18,136.15 1441.25,135.42 1442.31,134.68 1443.37,133.94 1444.43,133.2 1445.49,132.47 1446.55,131.73 1447.61,130.99 1448.67,130.25 1449.73,129.51 1450.79,128.77 1451.86,128.03 1452.92,127.29 1453.98,126.55 1455.04,125.81 1456.1,125.07"/>
<polyline stroke="#0c3f81" points="879.3,247.04 880.46,246.92 881.61,246.81 882.77,246.7 883.92,246.6 885.08,246.49 886.24,246.39 887.39,246.29 888.55,246.19 889.7,246.09 890.86,246 892.02,245.91 893.17,245.82 894.33,245.73 895.48,245.65 896.64,245.56 897.79,245.48 898.95,245.4 900.11,245.32 901.26,245.24 902.42,245.17 903.57,245.1 904.73,245.03 905.89,244.96 907.04,244.89 908.2,244.82 909.35,244.76 910.51,244.69 911.67,244.63 912.82,244.57 913.98,244.51 915.13,244.46 916.29,244.4 917.45,244.35 918.6,244.29 919.76,244.24 920.91,244.19 922.07,244.14 923.22,244.09 924.38,244.05 925.54,244 926.69,243.96 927.85,243.91 929,243.87 930.16,243.83 931.32,243.79 932.47,243.75 933.63,243.71 934.78,243.68 935.94,243.64 937.1,243.61 938.25,243.57 939.41,243.54 940.56,243.51 941.72,243.47 942.88,243.44 944.03,243.41 945.19,243.38 946.34,243.35 947.5,243.32 948.65,243.3 949.81,243.27 950.97,243.24 952.12,243.22 953.28,243.19 954.43,243.17 955.59,243.14 956.75,243.12 957.9,243.09 959.06,243.07 960.21,243.04 961.37,243.02 962.53,243 963.68,242.98 964.84,242.95 965.99,242.93 967.15,242.91 968.31,242.89 969.46,242.86 970.62,242.84 971.77,242.82 972.93,242.8 974.08,242.78 975.24,242.75 976.4,242.73 977.55,242.71 978.71,242.69 979.86,242.66 981.02,242.64 982.18,242.62 983.33,242.6 984.49,242.57 985.64,242.55 986.8,242.53 987.96,242.5 989.11,242.48 990.27,242.46 991.42,242.44 992.58,242.42 993.74,242.39 994.89,242.37 996.05,242.36 997.2,242.34 998.36,242.32 999.51,242.3 1000.67,242.28 1001.83,242.27 1002.98,242.26 1004.14,242.24 1005.29,242.23 1006.45,242.22 1007.61,242.21 1008.76,242.2 1009.92,242.19 1011.07,242.19 1012.23,242.19 1013.39,242.18 1014.54,242.18 1015.7,242.19 1016.85,242.19 1018.01,242.19 1019.17,242.2 1020.32,242.21 1021.48,242.22 1022.63,242.23 1023.79,242.25 1024.94,242.27 1026.1,242.29 1027.26,242.31 1028.41,242.33 1029.57,242.36 1030.72,242.39 1031.88,242.42 1033.04,242.46 1034.19,242.5 1035.35,242.54 1036.5,242.58 1037.66,242.63 1038.82,242.68 1039.97,242.73 1041.13,242.79 1042.28,242.85 1043.44,242.91 1044.6,242.98 1045.75,243.05 1046.91,243.12 1048.06,243.2 1049.22,243.28 1050.37,243.36 1051.53,243.45 1052.69,243.54 1053.84,243.63 1055,243.73 1056.15,243.83 1057.31,243.94 1058.47,244.04 1059.62,244.15 1060.78,244.26 1061.93,244.38 1063.09,244.49 1064.25,244.61 1065.4,244.73 1066.56,244.85 1067.71,244.98 1068.87,245.1 1070.03,245.23 1071.18,245.36 1072.34,245.49 1073.49,245.63 1074.65,245.76 1075.81,245.89 1076.96,246.03 1078.12,246.17 1079.27,246.3 1080.43,246.44 1081.58,246.58 1082.74,246.72 1083.9,246.86 1085.05,247 1086.21,247.14 1087.36,247.28 1088.52,247.42 1089.68,247.55 1090.83,247.69 1091.99,247.83 1093.14,247.97 1094.3,248.11 1095.46,248.24 1096.61,248.38 1097.77,248.51 1098.92,248.64 1100.08,248.78 1101.24,248.91 1102.39,249.04 1103.55,249.16 1104.7,249.29 1105.86,249.41 1107.01,249.53 1108.17,249.65 1109.33,249.77 1110.48,249.88 1111.64,250 1112.79,250.11 1113.95,250.21 1115.11,250.32 1116.26,250.42 1117.42,250.52 1118.57,250.61 1119.73,250.71 1120.89,250.8 1122.04,250.88 1123.2,250.96 1124.35,251.04 1125.51,251.12 1126.67,251.19 1127.82,251.25 1128.98,251.31 1130.13,251.37 1131.29,251.43 1132.44,251.48 1133.6,251.52 1134.76,251.56 1135.91,251.6 1137.07,251.63 1138.22,251.65 1139.38,251.67 1140.54,251.69 1141.69,251.69 1142.85,251.7 1144,251.7 1145.16,251.69 1146.32,251.68 1147.47,251.66 1148.63,251.63 1149.78,251.6 1150.94,251.56 1152.1,251.52 1153.25,251.47 1154.41,251.41 1155.56,251.34 1156.72,251.27 1157.87,251.19 1159.03,251.11 1160.19,251.02 1161.34,250.92 1162.5,250.81 1163.65,250.69 1164.81,250.57 1165.97,250.44 1167.12,250.3 1168.28,250.16 1169.43,250 1170.59,249.84 1171.75,249.67 1172.9,249.5 1174.06,249.31 1175.21,249.12 1176.37,248.92 1177.53,248.72 1178.68,248.5 1179.84,248.28 1180.99,248.06 1182.15,247.82 1183.3,247.58 1184.46,247.33 1185.62,247.07 1186.77,246.81 1187.93,246.54 1189.08,246.26 1190.24,245.97 1191.4,245.68 1192.55,245.38 1193.71,245.08 1194.86,244.77 1196.02,244.45 1197.18,244.12 1198.33,243.79 1199.49,243.45 1200.64,243.1 1201.8,242.75 1202.96,242.39 1204.11,242.03 1205.27,241.66 1206.42,241.28 1207.58,240.89 1208.73,240.5 1209.89,240.1 1211.05,239.7 1212.2,239.29 1213.36,238.88 1214.51,238.45 1215.67,238.03 1216.83,237.59 1217.98,237.15 1219.14,236.71 1220.29,236.25 1221.45,235.8 1222.61,235.33 1223.76,234.86 1224.92,234.39 1226.07,233.91 1227.23,233.42 1228.39,232.93 1229.54,232.43 1230.7,231.93 1231.85,231.42 1233.01,230.9 1234.16,230.38 1235.32,229.86 1236.48,229.33 1237.63,228.79 1238.79,228.25 1239.94,227.7 1241.1,227.15 1242.26,226.59 1243.41,226.03 1244.57,225.46 1245.72,224.89 1246.88,224.31 1248.04,223.73 1249.19,223.14 1250.35,222.55 1251.5,221.95 1252.66,221.35 1253.82,220.75 1254.97,220.13 1256.13,219.52 1257.28,218.9 1258.44,218.27 1259.59,217.64 1260.75,217.01 1261.91,216.37 1263.06,215.72 1264.22,215.08 1265.37,214.42 1266.53,213.77 1267.69,213.11 1268.84,212.44 1270,211.77 1271.15,211.1 1272.31,210.42 1273.47,209.74 1274.62,209.05 1275.78,208.36 1276.93,207.67 1278.09,206.97 1279.25,206.27 1280.4,205.56 1281.56,204.86 1282.71,204.14 1283.87,203.43 1285.03,202.71 1286.18,201.99 1287.34,201.26 1288.49,200.54 1289.65,199.8 1290.8,199.07 1291.96,198.33 1293.12,197.59 1294.27,196.85 1295.43,196.1 1296.58,195.36 1297.74,194.61 1298.9,193.85 1300.05,193.1 1301.21,192.34 1302.36,191.58 1303.52,190.82 1304.68,190.05 1305.83,189.29 1306.99,188.52 1308.14,187.75 1309.3,186.98 1310.46,186.2 1311.61,185.43 1312.77,184.65 1313.92,183.87 1315.08,183.09 1316.23,182.31 1317.39,181.53 1318.55,180.74 1319.7,179.96 1320.86,179.17 1322.01,178.39 1323.17,177.6 1324.33,176.81 1325.48,176.02 1326.64,175.23 1327.79,174.44 1328.95,173.65 1330.11,172.85 1331.26,172.06 1332.42,171.27 1333.57,170.48 1334.73,169.68 1335.89,168.89 1337.04,168.09 1338.2,167.3 1339.35,166.51 1340.51,165.71 1341.66,164.92 1342.82,164.13 1343.98,163.34 1345.13,162.54 1346.29,161.75 1347.44,160.96 1348.6,160.17 1349.76,159.38 1350.91,158.59 1352.07,157.81 1353.22,157.02 1354.38,156.23 1355.54,155.45 1356.69,154.66 1357.85,153.88 1359,153.1 1360.16,152.31 1361.32,151.53 1362.47,150.75 1363.63,149.97 1364.78,149.19 1365.94,148.41 1367.09,147.63 1368.25,146.86 1369.41,146.08 1370.56,145.3 1371.72,144.53 1372.87,143.75 1374.03,142.97 1375.19,142.2 1376.34,141.43 1377.5,140.65 1378.65,139.88 1379.81,139.11 1380.97,138.33 1382.12,137.56 1383.28,136.79 1384.43,136.02 1385.59,135.25 1386.75,134.48 1387.9,133.7 1389.06,132.93 1390.21,132.16 1391.37,131.39 1392.52,130.63 1393.68,129.86 1394.84,129.09 1395.99,128.32 1397.15,127.55 1398.3,126.78 1399.46,126.01 1400.62,125.24 1401.77,124.48 1402.93,123.71 1404.08,122.94 1405.24,122.17 1406.4,121.4 1407.55,120.64 1408.71,119.87 1409.86,119.1 1411.02,118.33 1412.18,117.56 1413.33,116.8 1414.49,116.03 1415.64,115.26 1416.8,114.49 1417.95,113.72 1419.11,112.96 1420.27,112.19 1421.42,111.42 1422.58,110.65 1423.73,109.88 1424.89,109.11 1426.05,108.34 1427.2,107.57 1428.36,106.8 1429.51,106.03 1430.67,105.26 1431.83,104.49 1432.98,103.72 1434.14,102.94 1435.29,102.17 1436.45,101.4 1437.61,100.63 1438.76,99.85 1439.92,99.08 1441.07,98.3 1442.23,97.53 1443.38,96.75 1444.54,95.98 1445.7,95.2 1446.85,94.42 1448.01,93.65 1449.16,92.87 1450.32,92.09 1451.48,91.31 1452.63,90.53 1453.79,89.75 1454.94,88.97 1456.1,88.19"/>
<polyline stroke="#d8531a" points="879.3,137.08 880.46,137.73 881.61,138.39 882.77,139.05 883.92,139.71 885.08,140.37 886.24,141.04 887.39,141.71 888.55,142.38 889.7,143.06 890.86,143.74 892.02,144.43 893.17,145.11 894.33,145.8 895.48,146.49 896.64,147.19 897.79,147.88 898.95,148.58 900.11,149.29 901.26,149.99 902.42,150.7 903.57,151.41 904.73,152.12 905.89,152.83 907.04,153.55 908.2,154.26 909.35,154.98 910.51,155.7 911.67,156.43 912.82,157.15 913.98,157.88 915.13,158.61 916.29,159.33 917.45,160.07 918.6,160.8 919.76,161.53 920.91,162.26 922.07,163 923.22,163.74 924.38,164.47 925.54,165.21 926.69,165.95 927.85,166.69 929,167.43 930.16,168.18 931.32,168.92 932.47,169.66 933.63,170.4 934.78,171.15 935.94,171.89 937.1,172.64 938.25,173.38 939.41,174.12 940.56,174.87 941.72,175.61 942.88,176.36 944.03,177.1 945.19,177.84 946.34,178.59 947.5,179.33 948.65,180.07 949.81,180.82 950.97,181.56 952.12,182.3 953.28,183.04 954.43,183.78 955.59,184.52 956.75,185.25 957.9,185.99 959.06,186.73 960.21,187.46 961.37,188.19 962.53,188.92 963.68,189.65 964.84,190.38 965.99,191.11 967.15,191.84 968.31,192.56 969.46,193.28 970.62,194 971.77,194.72 972.93,195.44 974.08,196.16 975.24,196.88 976.4,197.59 977.55,198.31 978.71,199.02 979.86,199.74 981.02,200.45 982.18,201.16 983.33,201.87 984.49,202.58 985.64,203.29 986.8,204 987.96,204.71 989.11,205.42 990.27,206.13 991.42,206.84 992.58,207.55 993.74,208.26 994.89,208.97 996.05,209.67 997.2,210.38 998.36,211.09 999.51,211.8 1000.67,212.52 1001.83,213.23 1002.98,213.94 1004.14,214.65 1005.29,215.36 1006.45,216.08 1007.61,216.79 1008.76,217.51 1009.92,218.23 1011.07,218.94 1012.23,219.66 1013.39,220.38 1014.54,221.11 1015.7,221.83 1016.85,222.56 1018.01,223.28 1019.17,224.01 1020.32,224.74 1021.48,225.47 1022.63,226.2 1023.79,226.94 1024.94,227.68 1026.1,228.41 1027.26,229.16 1028.41,229.9 1029.57,230.64 1030.72,231.39 1031.88,232.14 1033.04,232.9 1034.19,233.65 1035.35,234.41 1036.5,235.17 1037.66,235.93 1038.82,236.7 1039.97,237.47 1041.13,238.24 1042.28,239.01 1043.44,239.79 1044.6,240.57 1045.75,241.35 1046.91,242.13 1048.06,242.92 1049.22,243.71 1050.37,244.5 1051.53,245.3 1052.69,246.09 1053.84,246.89 1055,247.69 1056.15,248.49 1057.31,249.3 1058.47,250.1 1059.62,250.91 1060.78,251.72 1061.93,252.53 1063.09,253.35 1064.25,254.16 1065.4,254.98 1066.56,255.8 1067.71,256.62 1068.87,257.44 1070.03,258.27 1071.18,259.09 1072.34,259.92 1073.49,260.74 1074.65,261.57 1075.81,262.4 1076.96,263.23 1078.12,264.07 1079.27,264.9 1080.43,265.73 1081.58,266.57 1082.74,267.41 1083.9,268.24 1085.05,269.08 1086.21,269.92 1087.36,270.76 1088.52,271.6 1089.68,272.44 1090.83,273.28 1091.99,274.12 1093.14,274.97 1094.3,275.81 1095.46,276.65 1096.61,277.5 1097.77,278.34 1098.92,279.18 1100.08,280.03 1101.24,280.87 1102.39,281.72 1103.55,282.56 1104.7,283.41 1105.86,284.25 1107.01,285.09 1108.17,285.94 1109.33,286.78 1110.48,287.63 1111.64,288.47 1112.79,289.31 1113.95,290.15 1115.11,291 1116.26,291.84 1117.42,292.68 1118.57,293.52 1119.73,294.36 1120.89,295.2 1122.04,296.03 1123.2,296.87 1124.35,297.7 1125.51,298.53 1126.67,299.36 1127.82,300.19 1128.98,301.02 1130.13,301.84 1131.29,302.66 1132.44,303.48 1133.6,304.3 1134.76,305.11 1135.91,305.92 1137.07,306.73 1138.22,307.54 1139.38,308.34 1140.54,309.13 1141.69,309.93 1142.85,310.72 1144,311.5 1145.16,312.28 1146.32,313.06 1147.47,313.83 1148.63,314.6 1149.78,315.36 1150.94,316.12 1152.1,316.87 1153.25,317.62 1154.41,318.36 1155.56,319.1 1156.72,319.83 1157.87,320.55 1159.03,321.27 1160.19,321.98 1161.34,322.69 1162.5,323.39 1163.65,324.08 1164.81,324.77 1165.97,325.45 1167.12,326.12 1168.28,326.79 1169.43,327.44 1170.59,328.09 1171.75,328.74 1172.9,329.37 1174.06,330 1175.21,330.62 1176.37,331.23 1177.53,331.83 1178.68,332.42 1179.84,333.01 1180.99,333.58 1182.15,334.15 1183.3,334.71 1184.46,335.27 1185.62,335.81 1186.77,336.35 1187.93,336.88 1189.08,337.4 1190.24,337.92 1191.4,338.43 1192.55,338.93 1193.71,339.42 1194.86,339.91 1196.02,340.38 1197.18,340.86 1198.33,341.32 1199.49,341.78 1200.64,342.23 1201.8,342.67 1202.96,343.11 1204.11,343.54 1205.27,343.97 1206.42,344.38 1207.58,344.79 1208.73,345.2 1209.89,345.6 1211.05,345.99 1212.2,346.38 1213.36,346.76 1214.51,347.13 1215.67,347.5 1216.83,347.86 1217.98,348.22 1219.14,348.57 1220.29,348.92 1221.45,349.26 1222.61,349.6 1223.76,349.93 1224.92,350.25 1226.07,350.57 1227.23,350.88 1228.39,351.19 1229.54,351.5 1230.7,351.8 1231.85,352.09 1233.01,352.38 1234.16,352.67 1235.32,352.95 1236.48,353.22 1237.63,353.5 1238.79,353.76 1239.94,354.03 1241.1,354.29 1242.26,354.54 1243.41,354.79 1244.57,355.04 1245.72,355.28 1246.88,355.52 1248.04,355.76 1249.19,355.99 1250.35,356.22 1251.5,356.44 1252.66,356.67 1253.82,356.88 1254.97,357.1 1256.13,357.31 1257.28,357.52 1258.44,357.73 1259.59,357.93 1260.75,358.13 1261.91,358.32 1263.06,358.52 1264.22,358.71 1265.37,358.9 1266.53,359.09 1267.69,359.27 1268.84,359.45 1270,359.63 1271.15,359.81 1272.31,359.99 1273.47,360.16 1274.62,360.34 1275.78,360.51 1276.93,360.69 1278.09,360.86 1279.25,361.04 1280.4,361.21 1281.56,361.39 1282.71,361.56 1283.87,361.74 1285.03,361.92 1286.18,362.1 1287.34,362.28 1288.49,362.47 1289.65,362.65 1290.8,362.84 1291.96,363.03 1293.12,363.23 1294.27,363.43 1295.43,363.63 1296.58,363.84 1297.74,364.05 1298.9,364.27 1300.05,364.49 1301.21,364.71 1302.36,364.94 1303.52,365.18 1304.68,365.42 1305.83,365.66 1306.99,365.92 1308.14,366.18 1309.3,366.44 1310.46,366.72 1311.61,367 1312.77,367.29 1313.92,367.58 1315.08,367.89 1316.23,368.2 1317.39,368.52 1318.55,368.85 1319.7,369.19 1320.86,369.53 1322.01,369.89 1323.17,370.26 1324.33,370.63 1325.48,371.02 1326.64,371.42 1327.79,371.82 1328.95,372.24 1330.11,372.67 1331.26,373.11 1332.42,373.55 1333.57,374.01 1334.73,374.48 1335.89,374.95 1337.04,375.44 1338.2,375.93 1339.35,376.44 1340.51,376.95 1341.66,377.47 1342.82,377.99 1343.98,378.53 1345.13,379.08 1346.29,379.63 1347.44,380.19 1348.6,380.75 1349.76,381.33 1350.91,381.91 1352.07,382.5 1353.22,383.09 1354.38,383.69 1355.54,384.3 1356.69,384.91 1357.85,385.53 1359,386.16 1360.16,386.79 1361.32,387.43 1362.47,388.07 1363.63,388.72 1364.78,389.37 1365.94,390.03 1367.09,390.7 1368.25,391.37 1369.41,392.04 1370.56,392.72 1371.72,393.4 1372.87,394.09 1374.03,394.79 1375.19,395.48 1376.34,396.19 1377.5,396.89 1378.65,397.61 1379.81,398.32 1380.97,399.04 1382.12,399.76 1383.28,400.49 1384.43,401.22 1385.59,401.96 1386.75,402.69 1387.9,403.43 1389.06,404.18 1390.21,404.93 1391.37,405.68 1392.52,406.43 1393.68,407.19 1394.84,407.95 1395.99,408.71 1397.15,409.47 1398.3,410.24 1399.46,411.01 1400.62,411.78 1401.77,412.56 1402.93,413.33 1404.08,414.11 1405.24,414.89 1406.4,415.67 1407.55,416.45 1408.71,417.24 1409.86,418.03 1411.02,418.81 1412.18,419.6 1413.33,420.39 1414.49,421.18 1415.64,421.97 1416.8,422.77 1417.95,423.56 1419.11,424.35 1420.27,425.15 1421.42,425.95 1422.58,426.74 1423.73,427.54 1424.89,428.34 1426.05,429.14 1427.2,429.94 1428.36,430.74 1429.51,431.54 1430.67,432.34 1431.83,433.15 1432.98,433.95 1434.14,434.76 1435.29,435.56 1436.45,436.37 1437.61,437.18 1438.76,437.99 1439.92,438.8 1441.07,439.61 1442.23,440.42 1443.38,441.23 1444.54,442.05 1445.7,442.86 1446.85,443.68 1448.01,444.49 1449.16,445.31 1450.32,446.13 1451.48,446.95 1452.63,447.77 1453.79,448.59 1454.94,449.41 1456.1,450.24"/>
</g>
<g fill="#0c3f81">
<text x="518.8" y="140" font-size="31.5" style="fill:#0c3f81">pH</text>
<text x="558.6" y="155.6" font-size="24.8" style="fill:#0c3f81">0</text>
<text x="570.7" y="140" font-size="31.5" style="fill:#0c3f81">=0</text>
</g>
<g fill="#000000">
<text x="518.8" y="407.2" font-size="31.5" style="fill:#000000">pH</text>
<text x="558.6" y="422.8" font-size="24.8" style="fill:#000000">0</text>
<text x="570.7" y="407.2" font-size="31.5" style="fill:#000000">=7</text>
</g>
<g fill="#d8531a">
<text x="518.8" y="480" font-size="31.5" style="fill:#d8531a">pH</text>
<text x="558.6" y="495.6" font-size="24.8" style="fill:#d8531a">0</text>
<text x="570.7" y="480" font-size="31.5" style="fill:#d8531a">=14</text>
</g>
<g fill="#0c3f81">
<text x="1290" y="129.1" font-size="31.5" style="fill:#0c3f81">pH</text>
<text x="1329.8" y="144.7" font-size="24.8" style="fill:#0c3f81">0</text>
<text x="1341.9" y="129.1" font-size="31.5" style="fill:#0c3f81">=0</text>
</g>
<g fill="#000000">
<text x="1290" y="260.5" font-size="31.5" style="fill:#000000">pH</text>
<text x="1329.8" y="276.1" font-size="24.8" style="fill:#000000">0</text>
<text x="1341.9" y="260.5" font-size="31.5" style="fill:#000000">=7</text>
</g>
<g fill="#d8531a">
<text x="1290" y="434.8" font-size="31.5" style="fill:#d8531a">pH</text>
<text x="1329.8" y="450.4" font-size="24.8" style="fill:#d8531a">0</text>
<text x="1341.9" y="434.8" font-size="31.5" style="fill:#d8531a">=14</text>
</g>
</svg></body></html>
